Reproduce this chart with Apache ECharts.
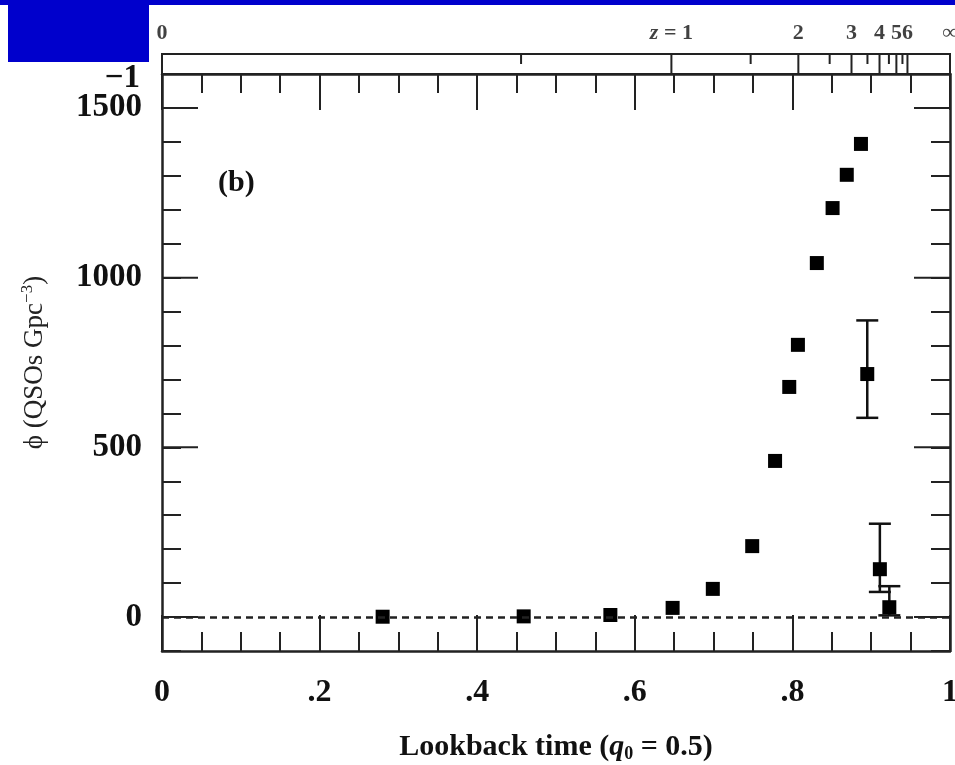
<!DOCTYPE html>
<html>
<head>
<meta charset="utf-8">
<script src="https://cdn.jsdelivr.net/npm/echarts@6/dist/echarts.min.js"></script>
<style>
  html, body { margin: 0; padding: 0; background: #fff; }
  #chart { width: 955px; height: 765px; }
</style>
</head>
<body>
<div id="chart"></div>
<script>
// QSO space density vs lookback time (panel b)
const lookback = [0.280, 0.459, 0.569, 0.648, 0.699, 0.749, 0.778, 0.796, 0.807, 0.831, 0.851, 0.869, 0.887];
const density = [1, 2, 6, 27, 83, 209, 460, 678, 802, 1043, 1205, 1303, 1394];

// points that carry error bars
const errLookback = [0.895, 0.911, 0.923];
const errDensity = [716, 141, 29];
const errLow = [587, 74, 5];
const errHigh = [874, 275, 91];

// redshift scale on the top strip
const zTicks = [0.5, 1, 1.5, 2, 2.5, 3, 3.5, 4, 4.5, 5, 5.5, 6];
const zLabelValues = [0, 1, 2, 3, 4, 5, 6, Infinity];
const zLabels = ['0', '{i|z} = 1', '2', '3', '4', '5', '6', '∞'];

// axis tick labels
const xLabelValues = [0, 0.2, 0.4, 0.6, 0.8, 1];
const xLabels = ['0', '.2', '.4', '.6', '.8', '1'];
const yMajor = [0, 500, 1000, 1500];

const FONT = "'Liberation Serif', 'DejaVu Serif', serif";
const INK = '#222';

// lookback time as a fraction of the age, q0 = 0.5
const zToLookback = z => (z === Infinity ? 1 : 1 - Math.pow(1 + z, -1.5));

const chart = echarts.init(document.getElementById('chart'));

const shortTick = { show: true, inside: true, length: 19, lineStyle: { color: INK, width: 2 } };
const frameLine = { show: true, onZero: false, lineStyle: { color: INK, width: 2.5 } };

const option = {
  animation: false,
  backgroundColor: '#fff',
  grid: [
    { left: 162, right: 5, top: 74, bottom: 114, containLabel: false, outerBoundsMode: 'none' },
    { left: 162, right: 5, top: 54, height: 20, show: true, borderColor: INK, borderWidth: 2, outerBoundsMode: 'none' }
  ],
  xAxis: [
    {
      gridIndex: 0, type: 'value', position: 'bottom', min: 0, max: 1, interval: 0.2,
      axisLine: frameLine,
      axisTick: { show: true, inside: true, length: 36, lineStyle: { color: INK, width: 2 } },
      minorTick: { show: true, splitNumber: 4, length: 19, lineStyle: { color: INK, width: 2 } },
      splitLine: { show: false },
      axisLabel: {
        margin: 26, fontFamily: FONT, fontWeight: 'bold', fontSize: 32, color: '#111',
        formatter: v => {
          const i = xLabelValues.findIndex(x => Math.abs(x - v) < 1e-6);
          return i >= 0 ? xLabels[i] : '';
        }
      },
      name: 'Lookback time ({i|q}{s|0} = 0.5)',
      nameLocation: 'middle',
      nameGap: 80,
      nameTextStyle: {
        fontFamily: FONT, fontWeight: 'bold', fontSize: 30, color: '#111',
        rich: {
          i: { fontFamily: FONT, fontWeight: 'bold', fontStyle: 'italic', fontSize: 30, color: '#111' },
          s: { fontFamily: FONT, fontWeight: 'bold', fontSize: 18, color: '#111', padding: [14, 0, 0, 0] }
        }
      }
    },
    {
      gridIndex: 0, type: 'value', position: 'top', min: 0, max: 1, interval: 0.2,
      axisLine: frameLine,
      axisTick: { show: true, inside: true, length: 36, lineStyle: { color: INK, width: 2 } },
      minorTick: { show: true, splitNumber: 4, length: 19, lineStyle: { color: INK, width: 2 } },
      splitLine: { show: false },
      axisLabel: { show: false }
    },
    { gridIndex: 1, type: 'value', min: 0, max: 1, show: false }
  ],
  yAxis: [
    {
      gridIndex: 0, type: 'value', position: 'left', min: -100, max: 1600, interval: 100,
      axisLine: frameLine,
      axisTick: shortTick,
      splitLine: { show: false },
      axisLabel: {
        margin: 20, fontFamily: FONT, fontWeight: 'bold', fontSize: 33, color: '#111',
        formatter: v => (yMajor.includes(v) ? String(v) : '')
      },
      name: 'ϕ (QSOs Gpc{sup|−3})',
      nameLocation: 'middle',
      nameGap: 112,
      nameRotate: 90,
      nameTextStyle: {
        fontFamily: FONT, fontSize: 27, color: '#222',
        rich: { sup: { fontFamily: FONT, fontSize: 17, color: '#222', padding: [0, 0, 14, 0] } }
      }
    },
    {
      gridIndex: 0, type: 'value', position: 'right', min: -100, max: 1600, interval: 100,
      axisLine: frameLine,
      axisTick: shortTick,
      splitLine: { show: false },
      axisLabel: { show: false }
    },
    { gridIndex: 1, type: 'value', min: 0, max: 1, show: false }
  ],
  graphic: [
    { type: 'rect', left: 0, top: 0, shape: { width: 955, height: 5 }, style: { fill: '#0000cc' } },
    { type: 'rect', left: 8, top: 0, shape: { width: 141, height: 62 }, style: { fill: '#0000cc' } },
    { type: 'text', right: 815, top: 62, style: { text: '−1', font: "bold 33px 'Liberation Serif', serif", fill: '#111' } },
    { type: 'text', left: 218, top: 168, style: { text: '(b)', font: "bold 30px 'Liberation Serif', serif", fill: '#111' } }
  ],
  series: [
    {
      name: 'QSO density',
      type: 'scatter',
      xAxisIndex: 0,
      yAxisIndex: 0,
      symbol: 'rect',
      symbolSize: 14,
      itemStyle: { color: '#000', opacity: 1 },
      data: lookback.map((t, i) => [t, density[i]])
        .concat(errLookback.map((t, i) => [t, errDensity[i]])),
      markLine: {
        silent: true,
        symbol: 'none',
        label: { show: false },
        lineStyle: { type: [7, 5], color: INK, width: 2.5 },
        data: [{ yAxis: 0 }]
      },
      z: 3
    },
    {
      name: 'error bars',
      type: 'custom',
      xAxisIndex: 0,
      yAxisIndex: 0,
      data: errLookback.map((t, i) => [t, errLow[i], errHigh[i]]),
      renderItem: (params, api) => {
        const lo = api.coord([api.value(0), api.value(1)]);
        const hi = api.coord([api.value(0), api.value(2)]);
        const half = 11;
        const st = { stroke: '#111', lineWidth: 2.5 };
        return {
          type: 'group',
          children: [
            { type: 'line', shape: { x1: lo[0], y1: lo[1], x2: hi[0], y2: hi[1] }, style: st },
            { type: 'line', shape: { x1: lo[0] - half, y1: lo[1], x2: lo[0] + half, y2: lo[1] }, style: st },
            { type: 'line', shape: { x1: hi[0] - half, y1: hi[1], x2: hi[0] + half, y2: hi[1] }, style: st }
          ]
        };
      },
      z: 2
    },
    {
      // longer ticks at the labelled y values, on both sides of the frame
      name: 'y major ticks',
      type: 'custom',
      xAxisIndex: 0,
      yAxisIndex: 0,
      silent: true,
      data: yMajor.map(v => [v]),
      renderItem: (params, api) => {
        const l = api.coord([0, api.value(0)]);
        const r = api.coord([1, api.value(0)]);
        const st = { stroke: INK, lineWidth: 2 };
        return {
          type: 'group',
          children: [
            { type: 'line', shape: { x1: l[0], y1: l[1], x2: l[0] + 36, y2: l[1] }, style: st },
            { type: 'line', shape: { x1: r[0], y1: r[1], x2: r[0] - 36, y2: r[1] }, style: st }
          ]
        };
      }
    },
    {
      name: 'z ticks',
      type: 'custom',
      xAxisIndex: 2,
      yAxisIndex: 2,
      data: zTicks.map(z => [zToLookback(z), Number.isInteger(z) ? 20 : 10]),
      renderItem: (params, api) => {
        const p = api.coord([api.value(0), 1]);
        return {
          type: 'line',
          shape: { x1: p[0], y1: p[1], x2: p[0], y2: p[1] + api.value(1) },
          style: { stroke: INK, lineWidth: 2 }
        };
      }
    },
    {
      name: 'z labels',
      type: 'scatter',
      xAxisIndex: 2,
      yAxisIndex: 2,
      symbolSize: 1,
      itemStyle: { color: 'rgba(0,0,0,0)' },
      clip: false,
      data: zLabelValues.map(z => [zToLookback(z), 1]),
      label: {
        show: true,
        position: 'top',
        distance: 9,
        fontFamily: FONT,
        fontWeight: 'bold',
        fontSize: 22,
        color: '#111',
        formatter: p => zLabels[p.dataIndex],
        rich: { i: { fontFamily: FONT, fontWeight: 'bold', fontStyle: 'italic', fontSize: 22, color: '#111' } }
      }
    }
  ]
};

chart.setOption(option);
</script>
</body>
</html>
